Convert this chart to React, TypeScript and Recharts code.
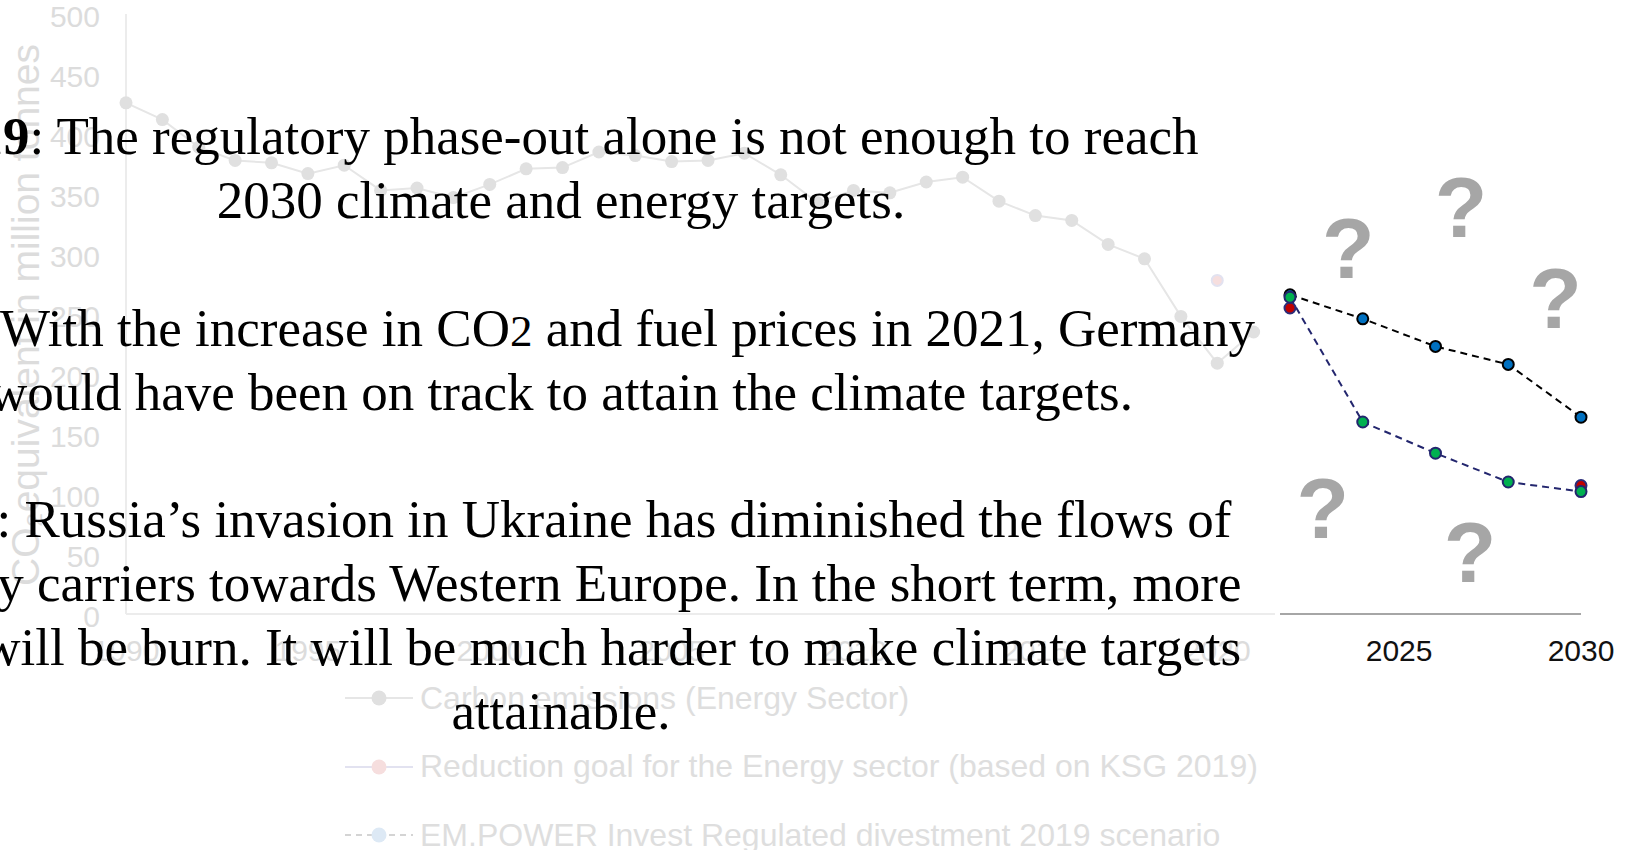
import { ComposedChart, Line, XAxis, YAxis, ReferenceDot } from "recharts";

const HIST_YEARS = [
  1990, 1991, 1992, 1993, 1994, 1995, 1996, 1997, 1998, 1999, 2000, 2001, 2002, 2003, 2004, 2005,
  2006, 2007, 2008, 2009, 2010, 2011, 2012, 2013, 2014, 2015, 2016, 2017, 2018, 2019, 2020, 2021,
];
const EMISSIONS = [
  426, 412, 389, 378, 376, 367, 374, 353, 355, 347, 358, 371, 372, 385, 382, 377,
  378, 384, 366, 343, 353, 351, 360, 364, 344, 332, 328, 308, 296, 248, 209, 235,
];

const GOAL_YEARS = [2020, 2022, 2030];
const GOAL = [278, 255, 107];

const SCENARIO_YEARS = [2022, 2024, 2026, 2028, 2030];
const REGULATED = [266, 246, 223, 208, 164];
const HIGH_PRICE = [264, 160, 134, 110, 102];

const X_TICKS = [1990, 1995, 2000, 2005, 2010, 2015, 2020, 2025, 2030];
const Y_TICKS = [0, 50, 100, 150, 200, 250, 300, 350, 400, 450, 500];

// "?" marks scattered over the forecast part (year, value at glyph baseline)
const QUESTION_YEARS = [2023.6, 2026.7, 2029.3, 2022.9, 2026.95];
const QUESTION_VALUES = [280, 314, 238, 63, 27];

const LEGEND_NAMES = [
  "Carbon emissions (Energy Sector)",
  "Reduction goal for the Energy sector (based on KSG 2019)",
  "EM.POWER Invest Regulated divestment 2019 scenario",
];

const NOTE_LINES: { bold?: string; text: string }[] = [
  { bold: "2019", text: ": The regulatory phase-out alone is not enough to reach" },
  { text: "2030 climate and energy targets." },
  { text: "" },
  { bold: "2021", text: ": With the increase in CO|2| and fuel prices in 2021, Germany" },
  { text: "would have been on track to attain the climate targets." },
  { text: "" },
  { bold: "2022", text: ": Russia\u2019s invasion in Ukraine has diminished the flows of" },
  { text: "energy carriers towards Western Europe. In the short term, more" },
  { text: "coal will be burn. It will be much harder to make climate targets" },
  { text: "attainable." },
];

const SANS = '"Liberation Sans", Arial, Helvetica, sans-serif';
const SERIF = '"Liberation Serif", "Times New Roman", serif';

// faded palette for the history, full palette for the forecast window
const FADED = {
  axis: "#ececec",
  tick: "#dcdcdc",
  emissions: "#e6e6e6",
  emissionsDot: "#e0e0e0",
  goalLine: "#e2e2f0",
  goalDot: "#f6dede",
  regLine: "#d4d4d4",
  regDot: "#dde9f5",
  highLine: "#dedee8",
  highDot: "#d8f0e2",
};
const FULL = {
  axis: "#a6a6a6",
  tick: "#111111",
  emissions: "#999999",
  emissionsDot: "#999999",
  goalLine: "#2b2d7a",
  goalDot: "#c00000",
  regLine: "#000000",
  regDot: "#0070c0",
  highLine: "#23266e",
  highDot: "#00b050",
};

type Row = {
  year: number;
  emissions?: number | null;
  goal?: number | null;
  regulated?: number | null;
  high?: number | null;
};

function buildRows(): Row[] {
  const years = Array.from(new Set([...HIST_YEARS, ...GOAL_YEARS, ...SCENARIO_YEARS])).sort((a, b) => a - b);
  return years.map((year) => {
    const h = HIST_YEARS.indexOf(year);
    const g = GOAL_YEARS.indexOf(year);
    const s = SCENARIO_YEARS.indexOf(year);
    return {
      year,
      emissions: h >= 0 ? EMISSIONS[h] : null,
      goal: g >= 0 ? GOAL[g] : null,
      regulated: s >= 0 ? REGULATED[s] : null,
      high: s >= 0 ? HIGH_PRICE[s] : null,
    };
  });
}

const rows = buildRows();

const WIDTH = 1629;
const HEIGHT = 674;

function AxisTitle() {
  const cx = 25;
  const cy = 315;
  return (
    <text
      x={cx}
      y={cy}
      transform={`rotate(-90 ${cx} ${cy})`}
      textAnchor="middle"
      dominantBaseline="central"
      fill={FADED.tick}
      fontFamily={SANS}
      fontSize={39}
    >
      CO₂equivalent in million tonnes
    </text>
  );
}

function QuestionMark(props: any) {
  return (
    <text
      x={props.cx}
      y={props.cy}
      textAnchor="middle"
      fill="#a6a6a6"
      fontFamily={SANS}
      fontWeight="bold"
      fontSize={86}
    >
      ?
    </text>
  );
}

function EmissionsChart({ palette, past }: { palette: typeof FULL; past: boolean }) {
  const tick = { fill: palette.tick, fontSize: 30, fontFamily: SANS };
  return (
    <ComposedChart
      width={WIDTH}
      height={HEIGHT}
      data={rows}
      margin={{ top: 14, right: 48, bottom: 0, left: past ? 0 : 126 }}
    >
      <XAxis
        dataKey="year"
        type="number"
        domain={[1990, 2030]}
        ticks={X_TICKS}
        interval={0}
        tickLine={false}
        tickSize={0}
        tickMargin={26}
        height={60}
        axisLine={{ stroke: palette.axis, strokeWidth: 2 }}
        tick={tick}
      />
      <YAxis
        domain={[0, 500]}
        ticks={Y_TICKS}
        interval={0}
        hide={!past}
        width={126}
        tickLine={false}
        tickSize={0}
        tickMargin={26}
        axisLine={{ stroke: palette.axis, strokeWidth: 2 }}
        tick={{ ...tick, dy: 2 }}
        label={past ? <AxisTitle /> : undefined}
      />

      <Line
        dataKey="emissions"
        stroke={palette.emissions}
        strokeWidth={2}
        dot={{ r: 6.5, fill: palette.emissionsDot, stroke: "none" }}
        connectNulls={false}
        isAnimationActive={false}
      />
      <Line
        dataKey="regulated"
        stroke={palette.regLine}
        strokeWidth={2}
        strokeDasharray="7 5"
        dot={{ r: 5.5, fill: palette.regDot, stroke: palette.regLine, strokeWidth: 2, strokeDasharray: "" }}
        connectNulls
        isAnimationActive={false}
      />
      <Line
        dataKey="goal"
        stroke={palette.goalLine}
        strokeWidth={2}
        dot={{ r: 5.5, fill: palette.goalDot, stroke: palette.goalLine, strokeWidth: 2 }}
        connectNulls={false}
        isAnimationActive={false}
      />
      <Line
        dataKey="high"
        stroke={palette.highLine}
        strokeWidth={2}
        strokeDasharray="7 5"
        dot={{ r: 5.5, fill: palette.highDot, stroke: palette.highLine, strokeWidth: 2, strokeDasharray: "" }}
        connectNulls
        isAnimationActive={false}
      />

      {!past &&
        QUESTION_YEARS.map((yr, i) => (
          <ReferenceDot key={i} x={yr} y={QUESTION_VALUES[i]} r={0} shape={<QuestionMark />} />
        ))}
    </ComposedChart>
  );
}

function LegendIcon({ index }: { index: number }) {
  const line = [FADED.emissions, FADED.goalLine, FADED.regLine][index];
  const dot = [FADED.emissionsDot, FADED.goalDot, FADED.regDot][index];
  return (
    <svg width={68} height={20} style={{ display: "block" }}>
      <line x1={0} y1={10} x2={68} y2={10} stroke={line} strokeWidth={2} strokeDasharray={index === 2 ? "6 5" : undefined} />
      <circle cx={34} cy={10} r={7.5} fill={dot} />
    </svg>
  );
}

function renderNote(text: string) {
  // "|2|" marks a slightly smaller digit (CO2)
  const parts = text.split("|");
  return parts.map((p, i) =>
    i % 2 === 1 ? (
      <span key={i} style={{ fontSize: "0.85em" }}>
        {p}
      </span>
    ) : (
      <span key={i}>{p}</span>
    )
  );
}

export default function App() {
  return (
    <div
      style={{
        position: "absolute",
        left: 0,
        top: 0,
        width: WIDTH,
        height: 850,
        overflow: "hidden",
        background: "#fff",
      }}
    >
      <div style={{ position: "absolute", left: 0, top: 0, clipPath: "inset(0 354px 0 0)" }}>
        <EmissionsChart palette={FADED} past />
      </div>
      <div style={{ position: "absolute", left: 0, top: 0, clipPath: "inset(0 0 0 1280px)" }}>
        <EmissionsChart palette={FULL} past={false} />
      </div>

      <div style={{ position: "absolute", left: 345, top: 664 }}>
        {LEGEND_NAMES.map((name, i) => (
          <div key={name} style={{ display: "flex", alignItems: "center", height: 68.5 }}>
            <LegendIcon index={i} />
            <span style={{ marginLeft: 7, fontFamily: SANS, fontSize: 32, color: "#dedede", whiteSpace: "nowrap" }}>
              {name}
            </span>
          </div>
        ))}
      </div>

      <div
        style={{
          position: "absolute",
          left: 561 - 1500,
          top: 105,
          width: 3000,
          textAlign: "center",
          fontFamily: SERIF,
          fontSize: 53,
          lineHeight: "63.9px",
          color: "#000",
          whiteSpace: "pre",
        }}
      >
        {NOTE_LINES.map((l, i) => (
          <div key={i} style={{ height: 63.9 }}>
            {l.bold && <b>{l.bold}</b>}
            {l.text ? renderNote(l.text) : "\u00a0"}
          </div>
        ))}
      </div>
    </div>
  );
}
